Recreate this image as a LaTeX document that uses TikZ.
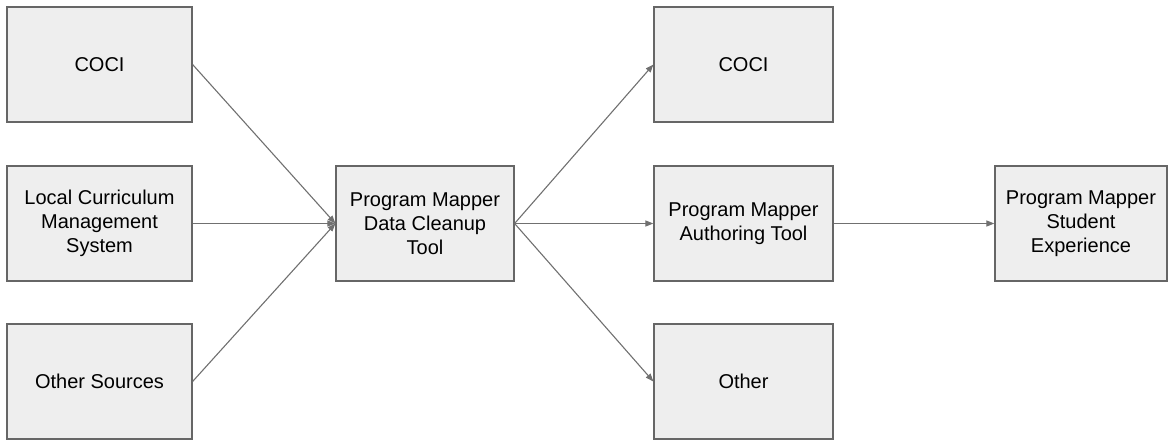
\documentclass[tikz,border=0pt]{standalone}
\usepackage{fontspec}
\setmainfont{Liberation Sans}
\usetikzlibrary{arrows.meta}
\definecolor{boxfill}{HTML}{EEEEEE}
\definecolor{boxline}{HTML}{666666}
\definecolor{flowline}{HTML}{707070}

\begin{document}
\begin{tikzpicture}[
  x=1pt, y=-1pt,
  block/.style={rectangle, draw=boxline, fill=boxfill, line width=1.2pt,
                minimum height=115pt, align=center, inner sep=0pt,
                font=\fontsize{20}{24}\selectfont},
  flow/.style={draw=flowline, line width=1.1pt,
               -{Triangle[length=8pt, width=6pt]}}
]
\useasboundingbox (0,0) rectangle (1172,440);

% sources
\node[block, minimum width=185pt] (coci)  at (99.5, 64.5)  {COCI};
\node[block, minimum width=185pt] (lcms)  at (99.5, 223.5) {Local Curriculum\\Management\\System};
\node[block, minimum width=185pt] (other) at (99.5, 381.5) {Other Sources};

% cleanup
\node[block, minimum width=178pt] (cleanup) at (425, 223.5) {Program Mapper\\Data Cleanup\\Tool};

% targets
\node[block, minimum width=179pt] (cociout)  at (743.5, 64.5)  {COCI};
\node[block, minimum width=179pt] (author)   at (743.5, 223.5) {Program Mapper\\Authoring Tool};
\node[block, minimum width=179pt] (otherout) at (743.5, 381.5) {Other};

\node[block, minimum width=172pt] (student) at (1081, 223.5) {Program Mapper\\Student\\Experience};

\foreach \src in {coci, lcms, other}
  \draw[flow] (\src.east) -- (cleanup.west);
\foreach \dst in {cociout, author, otherout}
  \draw[flow] (cleanup.east) -- (\dst.west);
\draw[flow] (author) -- (student);
\end{tikzpicture}
\end{document}
